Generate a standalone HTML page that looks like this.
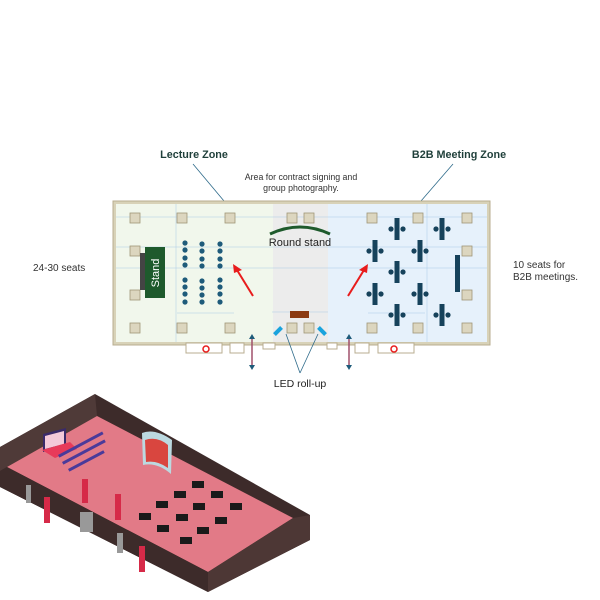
<!DOCTYPE html>
<html><head><meta charset="utf-8"><style>
body{margin:0;background:#fff;}
svg{display:block;font-family:"Liberation Sans",sans-serif;}
</style></head><body>
<svg width="600" height="600" viewBox="0 0 600 600" xmlns="http://www.w3.org/2000/svg">
<!-- labels -->
<text x="194" y="158" font-size="10.8" font-weight="bold" fill="#1f3f3a" text-anchor="middle">Lecture Zone</text>
<text x="459" y="158" font-size="10.8" font-weight="bold" fill="#1f3f3a" text-anchor="middle">B2B Meeting Zone</text>
<line x1="193" y1="164" x2="224" y2="201" stroke="#2d6a8a" stroke-width="0.8"/>
<line x1="453" y1="164" x2="421" y2="201" stroke="#2d6a8a" stroke-width="0.8"/>
<text x="301" y="180" font-size="8.8" fill="#333" text-anchor="middle">Area for contract signing and</text>
<text x="301" y="191" font-size="8.8" fill="#333" text-anchor="middle">group photography.</text>
<text x="33" y="271" font-size="10" fill="#333">24-30 seats</text>
<text x="513" y="268" font-size="10" fill="#333">10 seats for</text>
<text x="513" y="280" font-size="10" fill="#333">B2B meetings.</text>

<!-- floor plan -->
<rect x="113" y="201" width="377" height="144" fill="#d8d2b8" stroke="#b8ae90"/>
<rect x="116" y="204" width="157" height="138" fill="#f1f7ec"/>
<rect x="273" y="204" width="55" height="138" fill="#ececec"/>
<rect x="328" y="204" width="159" height="138" fill="#e6f1fb"/>
<!-- bottom bumps -->
<g fill="#fff" stroke="#b8ae90">
<rect x="186" y="343" width="36" height="10"/>
<rect x="230" y="343" width="14" height="10"/>
<rect x="263" y="343" width="12" height="6"/>
<rect x="327" y="343" width="10" height="6"/>
<rect x="355" y="343" width="14" height="10"/>
<rect x="378" y="343" width="36" height="10"/>
</g>
<!-- dim lines -->
<g stroke="#a9c9e6" stroke-width="0.5" fill="none">
<line x1="116" y1="217" x2="487" y2="217"/>
<line x1="116" y1="268" x2="487" y2="268"/>
<line x1="116" y1="247" x2="487" y2="247"/>
<line x1="176" y1="204" x2="176" y2="342"/>
<line x1="427" y1="204" x2="427" y2="342"/>
<line x1="177" y1="313" x2="234" y2="313"/>
<line x1="272" y1="312" x2="328" y2="312"/>
<line x1="368" y1="313" x2="425" y2="313"/>
</g>
<!-- pillars -->
<g fill="#dcd6bf" stroke="#9f9677" stroke-width="0.8">
<rect x="130" y="213" width="10" height="10"/><rect x="177" y="213" width="10" height="10"/><rect x="225" y="213" width="10" height="10"/>
<rect x="287" y="213" width="10" height="10"/><rect x="304" y="213" width="10" height="10"/><rect x="367" y="213" width="10" height="10"/>
<rect x="413" y="213" width="10" height="10"/><rect x="462" y="213" width="10" height="10"/>
<rect x="130" y="246" width="10" height="10"/><rect x="462" y="246" width="10" height="10"/>
<rect x="130" y="290" width="10" height="10"/><rect x="462" y="290" width="10" height="10"/>
<rect x="130" y="323" width="10" height="10"/><rect x="177" y="323" width="10" height="10"/><rect x="225" y="323" width="10" height="10"/>
<rect x="287" y="323" width="10" height="10"/><rect x="304" y="323" width="10" height="10"/><rect x="367" y="323" width="10" height="10"/>
<rect x="413" y="323" width="10" height="10"/><rect x="462" y="323" width="10" height="10"/>
</g>
<!-- stand -->
<rect x="140" y="253" width="6" height="37" fill="#444"/>
<rect x="145" y="247" width="20" height="51" fill="#1e5a2c"/>
<text transform="translate(159,273) rotate(-90)" font-size="11" fill="#fff" text-anchor="middle">Stand</text>
<!-- dots -->
<g fill="#1e5b7a">
<circle cx="185" cy="243" r="2.6"/><circle cx="185" cy="250" r="2.6"/><circle cx="185" cy="258" r="2.6"/><circle cx="185" cy="265" r="2.6"/>
<circle cx="185" cy="280" r="2.6"/><circle cx="185" cy="287" r="2.6"/><circle cx="185" cy="294" r="2.6"/><circle cx="185" cy="302" r="2.6"/>
<circle cx="202" cy="244" r="2.6"/><circle cx="202" cy="251" r="2.6"/><circle cx="202" cy="259" r="2.6"/><circle cx="202" cy="266" r="2.6"/>
<circle cx="202" cy="281" r="2.6"/><circle cx="202" cy="288" r="2.6"/><circle cx="202" cy="295" r="2.6"/><circle cx="202" cy="302" r="2.6"/>
<circle cx="220" cy="244" r="2.6"/><circle cx="220" cy="251" r="2.6"/><circle cx="220" cy="259" r="2.6"/><circle cx="220" cy="266" r="2.6"/>
<circle cx="220" cy="280" r="2.6"/><circle cx="220" cy="287" r="2.6"/><circle cx="220" cy="294" r="2.6"/><circle cx="220" cy="302" r="2.6"/>
</g>
<!-- round stand -->
<path d="M270 234 Q300 220 330 234" stroke="#1e5a2c" stroke-width="3" fill="none"/>
<text x="300" y="246" font-size="11" fill="#222" text-anchor="middle">Round stand</text>
<rect x="290" y="311" width="19" height="7" fill="#8b3a12"/>
<rect x="276" y="326" width="4" height="10" fill="#1aa3dd" transform="rotate(45 278 331)"/>
<rect x="320" y="326" width="4" height="10" fill="#1aa3dd" transform="rotate(-45 322 331)"/>
<line x1="286" y1="334" x2="300" y2="373" stroke="#2d6a8a" stroke-width="0.8"/>
<line x1="318" y1="334" x2="300" y2="373" stroke="#2d6a8a" stroke-width="0.8"/>
<text x="300" y="387" font-size="10.5" fill="#222" text-anchor="middle">LED roll-up</text>
<!-- red arrows -->
<g stroke="#e81c1c" stroke-width="2" fill="#e81c1c">
<line x1="253" y1="296" x2="237" y2="270"/>
<line x1="348" y1="296" x2="364" y2="270"/>
</g>
<polygon points="233,264 242,270 234,273" fill="#e81c1c"/>
<polygon points="368,264 367,273 359,270" fill="#e81c1c"/>
<!-- double arrows -->
<g stroke="#a0506a" stroke-width="1.5"><line x1="252" y1="338" x2="252" y2="366"/><line x1="349" y1="338" x2="349" y2="366"/></g>
<g fill="#1e5b7a"><polygon points="252,334 249,339 255,339"/><polygon points="252,370 249,365 255,365"/><polygon points="349,334 346,339 352,339"/><polygon points="349,370 346,365 352,365"/></g>
<g stroke="#e81c1c" stroke-width="1.5" fill="#fff"><circle cx="206" cy="349" r="3"/><circle cx="394" cy="349" r="3"/></g>
<!-- B2B tables -->
<g fill="#16425b">
<g transform="translate(397,229)"><rect x="-2.5" y="-11" width="5" height="22"/><circle cx="-6" cy="0" r="2.6"/><circle cx="6" cy="0" r="2.6"/></g>
<g transform="translate(442,229)"><rect x="-2.5" y="-11" width="5" height="22"/><circle cx="-6" cy="0" r="2.6"/><circle cx="6" cy="0" r="2.6"/></g>
<g transform="translate(375,251)"><rect x="-2.5" y="-11" width="5" height="22"/><circle cx="-6" cy="0" r="2.6"/><circle cx="6" cy="0" r="2.6"/></g>
<g transform="translate(420,251)"><rect x="-2.5" y="-11" width="5" height="22"/><circle cx="-6" cy="0" r="2.6"/><circle cx="6" cy="0" r="2.6"/></g>
<g transform="translate(397,272)"><rect x="-2.5" y="-11" width="5" height="22"/><circle cx="-6" cy="0" r="2.6"/><circle cx="6" cy="0" r="2.6"/></g>
<g transform="translate(375,294)"><rect x="-2.5" y="-11" width="5" height="22"/><circle cx="-6" cy="0" r="2.6"/><circle cx="6" cy="0" r="2.6"/></g>
<g transform="translate(420,294)"><rect x="-2.5" y="-11" width="5" height="22"/><circle cx="-6" cy="0" r="2.6"/><circle cx="6" cy="0" r="2.6"/></g>
<g transform="translate(397,315)"><rect x="-2.5" y="-11" width="5" height="22"/><circle cx="-6" cy="0" r="2.6"/><circle cx="6" cy="0" r="2.6"/></g>
<g transform="translate(442,315)"><rect x="-2.5" y="-11" width="5" height="22"/><circle cx="-6" cy="0" r="2.6"/><circle cx="6" cy="0" r="2.6"/></g>
<rect x="455" y="255" width="5" height="37"/>
</g>

<!-- isometric room -->
<polygon points="95,394 310,515 310,540 208,592 0,487 0,447" fill="#3d2b2a"/>
<polygon points="0,447 95,394 97,416 7,467 0,471" fill="#4f3a38"/>
<polygon points="97,416 293,518 208,572 7,467" fill="#e27a87"/>
<polygon points="0,471 7,467 208,572 208,592 0,487" fill="#3d2b2a"/>
<polygon points="208,572 293,518 310,515 310,540 208,592" fill="#4d3735"/>
<!-- stage -->
<polygon points="43,434 66,428 66,446 43,452" fill="#3a2a6a"/>
<polygon points="45,436 64,431 64,444 45,449" fill="#f3c9d9"/>
<polygon points="42,450 70,442 77,449 55,458" fill="#e83a5a"/>
<g fill="#4a3a9a"><rect x="58" y="455" width="50" height="3" transform="rotate(-28 58 455)"/><rect x="62" y="462" width="48" height="3" transform="rotate(-28 62 462)"/><rect x="68" y="469" width="40" height="3" transform="rotate(-28 68 469)"/></g>
<!-- curved stand -->
<path d="M142 433 Q155 428 172 440 L171 474 Q157 462 143 465 Z" fill="#bcd9e0"/>
<path d="M145 440 Q157 436 168 445 L168 468 Q157 460 146 462 Z" fill="#d9463f"/>
<!-- banners -->
<g fill="#d62a48"><rect x="82" y="479" width="6" height="24"/><rect x="44" y="497" width="6" height="26"/><rect x="115" y="494" width="6" height="26"/><rect x="139" y="546" width="6" height="26"/></g>
<g fill="#999"><rect x="26" y="485" width="5" height="18"/><rect x="80" y="512" width="13" height="20"/><rect x="117" y="533" width="6" height="20"/></g>
<!-- tables -->
<g fill="#1a1a1a">
<rect x="192" y="481" width="12" height="7"/><rect x="174" y="491" width="12" height="7"/><rect x="211" y="491" width="12" height="7"/>
<rect x="156" y="501" width="12" height="7"/><rect x="193" y="503" width="12" height="7"/><rect x="230" y="503" width="12" height="7"/>
<rect x="139" y="513" width="12" height="7"/><rect x="176" y="514" width="12" height="7"/><rect x="215" y="517" width="12" height="7"/>
<rect x="157" y="525" width="12" height="7"/><rect x="197" y="527" width="12" height="7"/><rect x="180" y="537" width="12" height="7"/>
</g>
</svg>
</body></html>
